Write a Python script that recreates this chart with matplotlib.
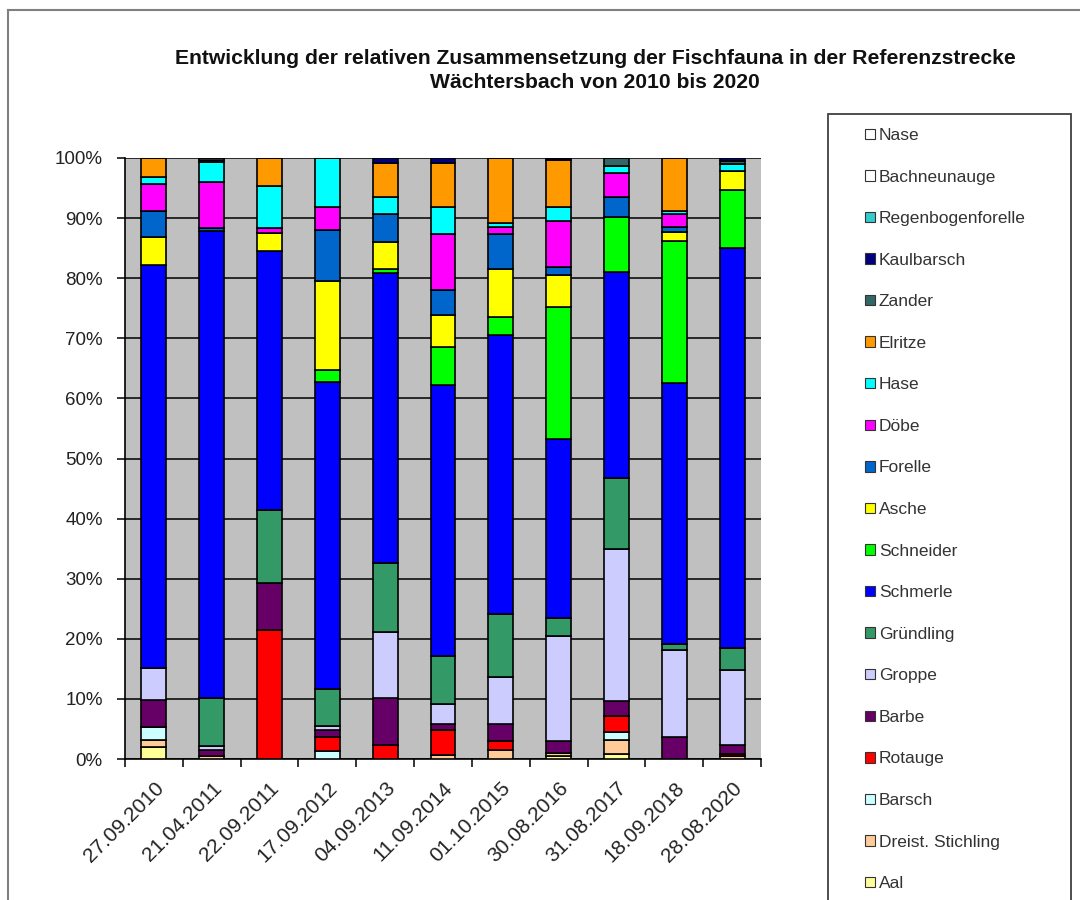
import numpy as np
import matplotlib
matplotlib.use('Agg')
import matplotlib.pyplot as plt
from matplotlib.patches import Rectangle
from matplotlib.lines import Line2D

plt.rcParams['font.family'] = ['Liberation Sans', 'DejaVu Sans']

dates = ['27.09.2010', '21.04.2011', '22.09.2011', '17.09.2012', '04.09.2013', '11.09.2014',
         '01.10.2015', '30.08.2016', '31.08.2017', '18.09.2018', '28.08.2020']

# Anteile in %, von unten nach oben gestapelt
aal          = [2.0, 0.0, 0.0, 0.0, 0.0, 0.0, 0.0, 0.5, 0.8, 0.0, 0.0]
stichling    = [1.1, 0.5, 0.0, 0.0, 0.0, 0.7, 1.5, 0.5, 2.4, 0.0, 0.5]
barsch       = [2.2, 0.0, 0.0, 1.3, 0.0, 0.0, 0.0, 0.0, 1.3, 0.0, 0.0]
rotauge      = [0.0, 0.0, 21.4, 2.3, 2.3, 4.1, 1.5, 0.0, 2.7, 0.0, 0.3]
barbe        = [4.6, 1.0, 7.9, 1.3, 7.9, 1.0, 2.8, 2.0, 2.4, 3.6, 1.6]
groppe       = [5.2, 0.6, 0.0, 0.6, 10.9, 3.3, 7.9, 17.5, 25.4, 14.5, 12.4]
gruendling   = [0.0, 8.1, 12.1, 6.2, 11.5, 8.1, 10.5, 2.9, 11.7, 1.1, 3.7]
schmerle     = [67.1, 77.6, 43.1, 51.0, 48.3, 45.0, 46.4, 29.8, 34.4, 43.3, 66.6]
schneider    = [0.0, 0.0, 0.0, 2.0, 0.7, 6.4, 3.0, 22.0, 9.1, 23.7, 9.6]
asche        = [4.6, 0.0, 3.0, 14.8, 4.5, 5.3, 7.9, 5.3, 0.0, 1.5, 3.2]
forelle      = [4.3, 0.6, 0.0, 8.5, 4.6, 4.2, 5.8, 1.3, 3.3, 0.8, 0.0]
doebel       = [4.5, 7.6, 0.8, 3.8, 0.0, 9.3, 1.2, 7.8, 4.0, 2.1, 0.0]
hasel        = [1.2, 3.3, 7.0, 8.2, 2.8, 4.4, 0.7, 2.2, 1.2, 0.5, 1.1]
elritze      = [3.2, 0.0, 4.7, 0.0, 5.7, 7.4, 10.8, 7.9, 0.0, 8.9, 0.0]
zander       = [0.0, 0.0, 0.0, 0.0, 0.0, 0.0, 0.0, 0.0, 1.3, 0.0, 0.5]
kaulbarsch   = [0.0, 0.4, 0.0, 0.0, 0.8, 0.8, 0.0, 0.3, 0.0, 0.0, 0.5]
regenbogen   = [0.0, 0.0, 0.0, 0.0, 0.0, 0.0, 0.0, 0.0, 0.0, 0.0, 0.0]
bachneunauge = [0.0, 0.3, 0.0, 0.0, 0.0, 0.0, 0.0, 0.0, 0.0, 0.0, 0.0]
nase         = [0.0, 0.0, 0.0, 0.0, 0.0, 0.0, 0.0, 0.0, 0.0, 0.0, 0.0]

series = [
    ('Aal', aal, '#FFFF99'),
    ('Dreist. Stichling', stichling, '#FFCC99'),
    ('Barsch', barsch, '#CCFFFF'),
    ('Rotauge', rotauge, '#FF0000'),
    ('Barbe', barbe, '#660066'),
    ('Groppe', groppe, '#CCCCFF'),
    ('Gründling', gruendling, '#339966'),
    ('Schmerle', schmerle, '#0000FF'),
    ('Schneider', schneider, '#00FF00'),
    ('Asche', asche, '#FFFF00'),
    ('Forelle', forelle, '#0066CC'),
    ('Döbe', doebel, '#FF00FF'),
    ('Hase', hasel, '#00FFFF'),
    ('Elritze', elritze, '#FF9900'),
    ('Zander', zander, '#336666'),
    ('Kaulbarsch', kaulbarsch, '#000080'),
    ('Regenbogenforelle', regenbogen, '#33CCCC'),
    ('Bachneunauge', bachneunauge, '#FFFFFF'),
    ('Nase', nase, '#FFFFFF'),
]

W, H = 1080, 900
fig = plt.figure(figsize=(W / 100, H / 100), dpi=100)
ax = fig.add_axes([125 / W, 1 - 759 / H, (761 - 125) / W, (759 - 158) / H])
ax.set_facecolor('#C0C0C0')

x = np.arange(len(dates))
bottom = np.zeros(len(dates))
handles = []
for name, vals, col in series:
    vals = np.array(vals, dtype=float)
    ax.bar(x, vals, 0.43, bottom=bottom, color=col, edgecolor='black', linewidth=1.2, zorder=3)
    bottom += vals
    handles.append(Rectangle((0, 0), 1, 1, facecolor=col, edgecolor='#333333', linewidth=0.8))

ax.set_xlim(-0.5, len(dates) - 0.5)
ax.set_ylim(0, 100)
ax.set_yticks(np.arange(0, 101, 10))
ax.set_yticklabels([f'{v}%' for v in range(0, 101, 10)], fontsize=13.5, color='#222222')
ax.yaxis.grid(True, color='black', linewidth=1.1, zorder=0)
ax.set_axisbelow(True)
ax.tick_params(axis='y', length=6, width=1.1, pad=10)

ax.set_xticks(x)
ax.set_xticklabels(dates, rotation=45, ha='right', rotation_mode='anchor', fontsize=15, color='#222222')
ax.tick_params(axis='x', length=0, pad=14)
ax.set_xticks(np.arange(-0.5, len(dates), 1.0), minor=True)
ax.tick_params(axis='x', which='minor', length=6, width=1.1)

for s in ['top', 'right']:
    ax.spines[s].set_visible(False)
for s in ['left', 'bottom']:
    ax.spines[s].set_linewidth(1.2)

fig.text(595 / W, 1 - 58 / H, 'Entwicklung der relativen Zusammensetzung der Fischfauna in der Referenzstrecke',
         ha='center', va='center', fontsize=15.2, fontweight='bold', color='#111111')
fig.text(595 / W, 1 - 82 / H, 'Wächtersbach von 2010 bis 2020',
         ha='center', va='center', fontsize=15.2, fontweight='bold', color='#111111')

# Rahmen des Diagramms
fig.add_artist(Line2D([8 / W, 8 / W], [0, 1 - 10 / H], transform=fig.transFigure, color='#808080', linewidth=1.5))
fig.add_artist(Line2D([8 / W, 1], [1 - 10 / H, 1 - 10 / H], transform=fig.transFigure, color='#808080', linewidth=1.5))

# Legendenrahmen (unten abgeschnitten wie im Original)
fig.add_artist(Rectangle((828 / W, -10 / H), (1071 - 828) / W, (910 - 114) / H,
                         transform=fig.transFigure, facecolor='white', edgecolor='#404040', linewidth=1.3, zorder=1))

leg = fig.legend(handles[::-1], [s[0] for s in series][::-1], loc='upper left',
                 bbox_to_anchor=(865 / W, 1 - 128 / H), frameon=False, fontsize=12.5,
                 handlelength=0.55, handleheight=0.55, handletextpad=0.25,
                 labelspacing=1.53, borderpad=0, borderaxespad=0)
for t in leg.get_texts():
    t.set_color('#333333')
leg.set_zorder(5)

fig.savefig('out.png', dpi=100, facecolor='white')
